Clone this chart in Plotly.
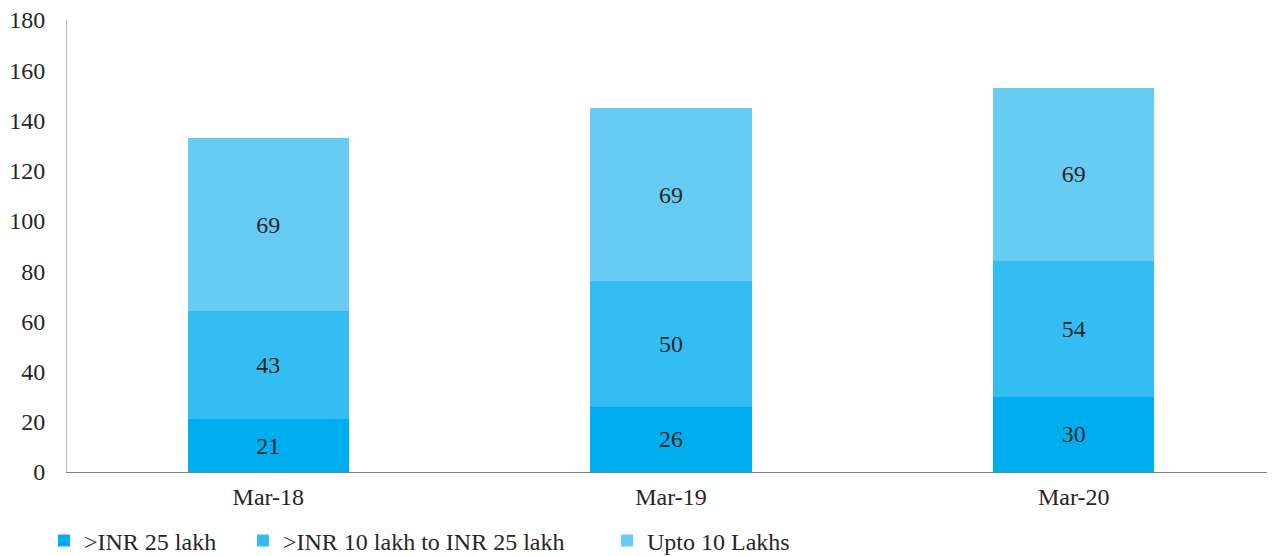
import plotly.graph_objects as go

categories = ["Mar-18", "Mar-19", "Mar-20"]
series_names = [">INR 25 lakh", ">INR 10 lakh to INR 25 lakh", "Upto 10 Lakhs"]
above_25 = [21, 26, 30]
between_10_25 = [43, 50, 54]
upto_10 = [69, 69, 69]
colors = ["#00AEEF", "#33BDF2", "#66CCF4"]
y_ticks = [0, 20, 40, 60, 80, 100, 120, 140, 160, 180]

font_family = "Liberation Serif, DejaVu Serif, serif"
fsize = 24
txt_color = "#262626"
legend_names = ["legend", "legend2", "legend3"]
legend_x = [36, 235, 599]

# page body has an 8px margin; figure sized to fit the 1275x556 window
W, H = 1267, 548

fig = go.Figure()
for name, vals, col, lg in zip(series_names, [above_25, between_10_25, upto_10], colors, legend_names):
    fig.add_trace(go.Bar(
        x=categories, y=vals, name=name, marker=dict(color=col, line=dict(width=0)),
        text=[str(v) for v in vals], textposition="inside", insidetextanchor="middle",
        textfont=dict(family=font_family, size=fsize, color=txt_color),
        width=0.4, legend=lg,
    ))

legend_common = dict(orientation="h", xref="container", yref="container",
                     xanchor="left", yanchor="middle", y=15 / H,
                     font=dict(family=font_family, size=fsize, color=txt_color),
                     itemwidth=30, bgcolor="rgba(0,0,0,0)")
layout_legends = {}
for lg, lx in zip(legend_names, legend_x):
    layout_legends[lg] = dict(legend_common, x=lx / W)

fig.update_layout(
    barmode="stack",
    width=W, height=H,
    margin=dict(l=59, r=0, t=12, b=84, autoexpand=False),
    paper_bgcolor="white", plot_bgcolor="white",
    font=dict(family=font_family, size=fsize, color=txt_color),
    showlegend=True,
    **layout_legends,
)
fig.update_yaxes(range=[0, 180], tickvals=y_ticks, showgrid=False, showline=True,
                 linecolor="#BFBFBF", linewidth=1, ticks="", zeroline=False,
                 automargin=False, ticklabelstandoff=16, ticklabeloverflow="allow",
                 tickfont=dict(family=font_family, size=fsize, color=txt_color))
fig.update_xaxes(showline=True, linecolor="#7F7F7F", linewidth=1, ticks="",
                 automargin=False, ticklabelstandoff=3, ticklabeloverflow="allow",
                 tickfont=dict(family=font_family, size=fsize, color=txt_color))

fig.write_html("out.html")
